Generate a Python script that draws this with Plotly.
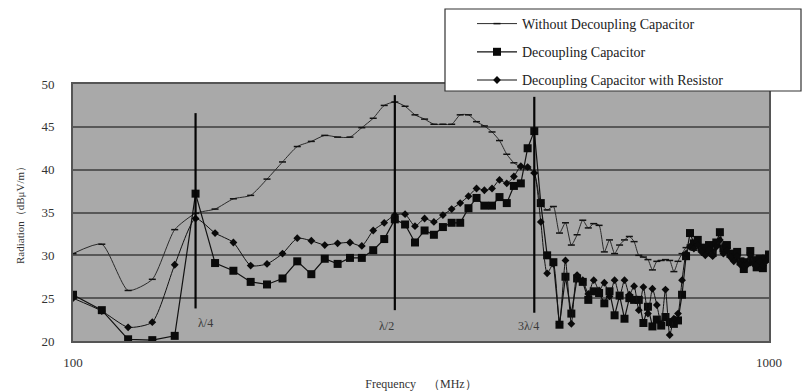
import numpy as np
import plotly.graph_objects as go

# ---------------- data ----------------
freq_mhz = list(range(100, 1001, 10))

without_cap = [
    30.2, 31.3, 25.9, 27.2, 33.0, 34.9, 35.4, 36.6, 37.0, 38.9,
    40.9, 42.7, 43.3, 44.0, 43.8, 43.8, 44.9, 46.0, 47.5, 47.9,
    47.4, 46.4, 45.9, 45.3, 45.3, 45.3, 46.4, 46.4, 45.6, 45.1,
    44.4, 43.4, 41.8, 40.8, 40.3, 40.1, 39.6, 36.1, 35.3, 35.7,
    32.6, 33.8, 31.2, 32.4, 34.1, 33.2, 33.7, 33.5, 30.4, 31.8,
    30.2, 31.2, 31.8, 32.2, 31.6, 30.0, 29.8, 29.5, 28.3, 29.3,
    29.4, 29.5, 29.4, 28.1, 29.3, 30.2, 30.9, 31.2, 30.6, 31.4,
    30.8, 30.2, 30.9, 30.5, 31.6, 31.0, 30.4, 30.9, 30.0, 29.7,
    30.2, 29.6, 29.0, 29.5, 30.3, 29.8, 29.0, 29.8, 29.3, 29.9,
    30.2,
]

decoupling_cap = [
    25.4, 23.6, 20.2, 20.1, 20.6, 37.2, 29.1, 28.2, 26.9, 26.6,
    27.3, 29.3, 27.8, 29.6, 29.0, 29.7, 29.7, 30.6, 31.9, 34.2,
    33.6, 31.5, 32.9, 32.4, 33.3, 33.8, 33.8, 35.5, 36.7, 35.8,
    35.8, 36.8, 36.1, 38.1, 38.4, 42.5, 44.5, 36.1, 30.0, 29.2,
    21.9, 27.5, 23.2, 27.3, 26.9, 24.8, 25.8, 25.6, 24.4, 25.8,
    23.0, 25.3, 22.6, 25.0, 24.8, 24.8, 22.1, 24.0, 21.7, 22.5,
    21.8, 22.8, 22.2, 22.0, 22.4, 25.4, 29.9, 32.6, 31.4, 31.8,
    30.9, 30.4, 31.2, 30.3, 31.5, 32.7, 30.8, 31.2, 30.2, 29.8,
    30.4, 29.3, 28.4, 29.2, 30.5, 29.4, 28.6, 29.6, 28.5, 29.6,
    30.1,
]

cap_with_resistor = [
    25.0, 23.5, 21.6, 22.2, 28.9, 34.3, 32.6, 31.5, 28.8, 29.0,
    30.2, 32.0, 31.7, 31.2, 31.4, 31.5, 31.1, 32.9, 33.8, 34.7,
    34.8, 33.4, 34.3, 33.9, 34.7, 35.4, 36.1, 36.9, 37.8, 37.6,
    37.8, 38.8, 38.4, 39.2, 40.4, 40.3, 39.6, 33.9, 27.9, 29.0,
    22.0, 29.4, 22.0, 27.7, 27.1, 25.5, 27.1, 25.9, 26.8, 25.2,
    27.1, 25.2, 27.1, 25.4, 26.4, 23.6, 26.3, 23.2, 26.1, 24.2,
    22.0, 26.0, 20.7, 22.6, 23.2, 27.1, 30.2, 31.0, 30.8, 31.2,
    30.4, 30.0, 30.7, 29.9, 31.0, 31.8, 30.2, 30.6, 29.8, 29.3,
    29.9, 28.9, 28.8, 28.9, 30.0, 29.0, 28.9, 29.3, 28.8, 29.3,
    29.8,
]

series_names = [
    "Without Decoupling Capacitor",
    "Decoupling Capacitor",
    "Decoupling Capacitor with Resistor",
]

lambda_freq = [150, 290, 460]
lambda_top = [46.6, 48.7, 48.5]
lambda_bottom = [23.8, 23.6, 23.3]
lambda_text = ["λ/4", "λ/2", "3λ/4"]
lambda_label_y = [22.1, 21.8, 21.8]

y_ticks = [20, 25, 30, 35, 40, 45, 50]
x_tick_vals = [100, 1000]
x_tick_text = ["100", "1000"]

# ---------------- figure ----------------
SERIF = "Liberation Serif, Times New Roman, serif"
W, H = 803, 391
fig = go.Figure()

fig.add_trace(go.Scatter(
    x=freq_mhz, y=without_cap, name=series_names[0], mode="lines+markers",
    line=dict(color="#2a2a2a", width=1, shape="spline", smoothing=0.6),
    marker=dict(symbol="line-ew", size=5, line=dict(width=1.5, color="#111")),
    legendgroup="a",
))
fig.add_trace(go.Scatter(
    x=freq_mhz, y=decoupling_cap, name=series_names[1], mode="lines+markers",
    line=dict(color="#111", width=1.2),
    marker=dict(symbol="square", size=8, color="#0a0a0a"),
    legendgroup="b",
))
fig.add_trace(go.Scatter(
    x=freq_mhz, y=cap_with_resistor, name=series_names[2], mode="lines+markers",
    line=dict(color="#111", width=1, shape="spline", smoothing=0.6),
    marker=dict(symbol="diamond", size=6, color="#0a0a0a"),
    legendgroup="c",
))

for f, t, b in zip(lambda_freq, lambda_top, lambda_bottom):
    fig.add_trace(go.Scatter(
        x=[f, f], y=[b, t], mode="lines", showlegend=False,
        line=dict(color="#050505", width=2.2), hoverinfo="skip",
    ))

label_shift = [10, -8, -6]
for f, txt, ly, dx in zip(lambda_freq, lambda_text, lambda_label_y, label_shift):
    fig.add_annotation(
        x=np.log10(f), y=ly, xref="x", yref="y", text=txt, showarrow=False,
        xshift=dx, font=dict(family=SERIF, size=12, color="#3a3a3a"),
    )

# legend box
fig.add_shape(
    type="rect", xref="paper", yref="paper",
    x0=(445 - 73) / 696, x1=(801 - 73) / 696,
    y0=(341 - 91) / 257, y1=(341 - 9) / 257,
    fillcolor="white", line=dict(color="#333", width=1.2), layer="above",
)

fig.update_layout(
    width=W, height=H,
    margin=dict(l=73, r=34, t=84, b=50, autoexpand=False),
    paper_bgcolor="white",
    plot_bgcolor="#a9a9a9",
    font=dict(family=SERIF, color="#333"),
    showlegend=True,
    legend=dict(
        xref="container", yref="container",
        x=472 / W, y=1 - 8 / H, xanchor="left", yanchor="top",
        bgcolor="rgba(0,0,0,0)", borderwidth=0,
        font=dict(family=SERIF, size=14, color="#222"),
        tracegroupgap=7, traceorder="grouped", itemwidth=40,
    ),
    xaxis=dict(
        type="log", range=[2, 3], automargin=False,
        tickvals=x_tick_vals, ticktext=x_tick_text,
        showgrid=False, zeroline=False,
        showline=True, mirror=True, linecolor="#555", linewidth=2,
        ticks="", ticklabelstandoff=8,
        tickfont=dict(family=SERIF, size=13, color="#333"),
        title=dict(text="Frequency　（MHz）", standoff=14,
                   font=dict(family=SERIF, size=12, color="#333")),
    ),
    yaxis=dict(
        range=[20, 50], tickvals=y_ticks, automargin=False,
        showgrid=True, gridcolor="#585858", gridwidth=2,
        zeroline=False,
        showline=True, mirror=True, linecolor="#555", linewidth=2,
        ticks="", ticklabelstandoff=14,
        tickfont=dict(family=SERIF, size=13, color="#333"),
        title=dict(text="Radiation（dBμV/m）", standoff=15,
                   font=dict(family=SERIF, size=11, color="#333")),
    ),
)

fig.write_html("out.html")
